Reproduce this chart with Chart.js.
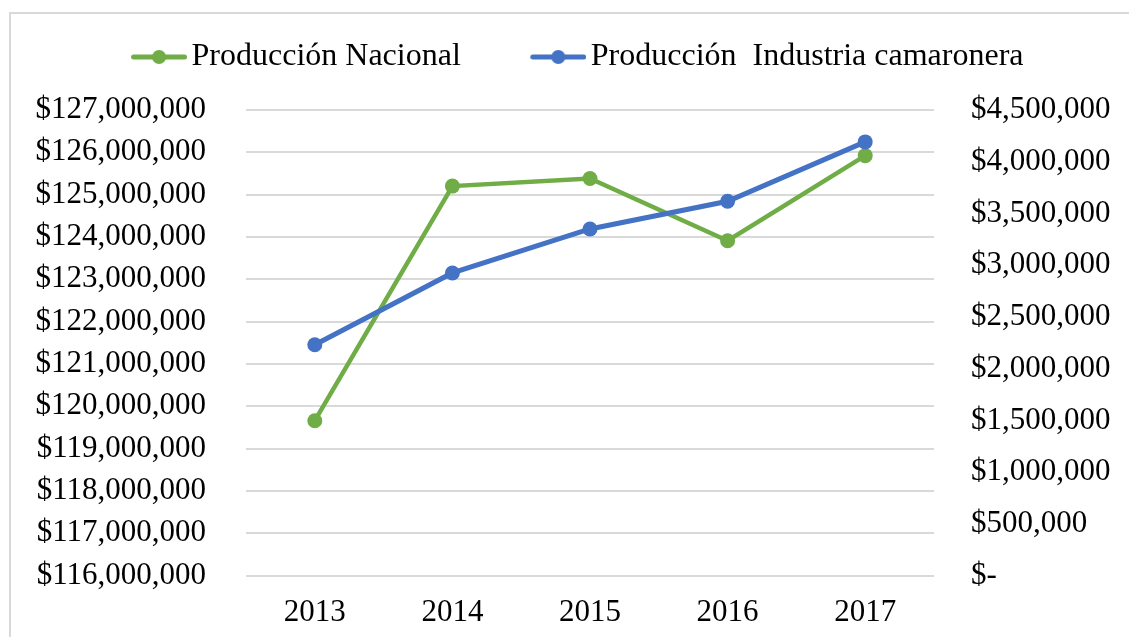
<!DOCTYPE html>
<html>
<head>
<meta charset="utf-8">
<script src="https://cdn.jsdelivr.net/npm/chart.js@4.4.1/dist/chart.umd.min.js"></script>
<style>
  html, body { margin: 0; padding: 0; background: #fff; overflow: hidden; }
  #wrap { position: relative; width: 1129px; height: 637px; }
  #frame { position: absolute; left: 9px; top: 12px; width: 1300px; height: 800px; border: 2px solid #d9d9d9; box-sizing: border-box; }
  canvas { position: absolute; left: 0; top: 0; }
</style>
</head>
<body>
<div id="wrap">
  <div id="frame"></div>
  <canvas id="c" width="1129" height="637"></canvas>
</div>
<script>
const years = ['2013', '2014', '2015', '2016', '2017'];
const produccionNacional = [119660000, 125200000, 125380000, 123910000, 125920000];
const produccionCamaronera = [2231000, 2925000, 3350000, 3617000, 4191000];
const seriesNames = ['Producción Nacional', 'Producción  Industria camaronera'];
const seriesColors = ['#70AD47', '#4472C4'];
const leftMin = 116000000, leftMax = 127000000, leftStep = 1000000;
const rightMin = 0, rightMax = 4500000, rightStep = 500000;

const FONT = 'Liberation Serif, Times New Roman, serif';
const FS = 31;
const LFS = 32;
const SHIFT = 34;

function money(v) {
  if (v === 0) return '$-';
  return '$' + Math.round(v).toLocaleString('en-US');
}

function legendIcon(color) {
  const c = document.createElement('canvas');
  c.width = 127; c.height = 18;
  const g = c.getContext('2d');
  g.strokeStyle = color; g.lineWidth = 5; g.lineCap = 'round';
  g.beginPath(); g.moveTo(73.5, 9); g.lineTo(124.5, 9); g.stroke();
  g.fillStyle = color;
  g.beginPath(); g.arc(99, 9, 7, 0, Math.PI * 2); g.fill();
  return c;
}
const icons = seriesColors.map(legendIcon);

new Chart(document.getElementById('c'), {
  type: 'line',
  data: {
    labels: years,
    datasets: [
      {
        label: seriesNames[0], data: produccionNacional, yAxisID: 'y', order: 1,
        borderColor: seriesColors[0], backgroundColor: seriesColors[0],
        borderWidth: 4.5, pointRadius: 7.5, pointBorderWidth: 0,
        pointBackgroundColor: seriesColors[0], tension: 0
      },
      {
        label: seriesNames[1], data: produccionCamaronera, yAxisID: 'y1', order: 0,
        borderColor: seriesColors[1], backgroundColor: seriesColors[1],
        borderWidth: 5, pointRadius: 7.5, pointBorderWidth: 0,
        pointBackgroundColor: seriesColors[1], tension: 0
      }
    ]
  },
  options: {
    responsive: false,
    animation: false,
    devicePixelRatio: 1,
    layout: { padding: { top: 31, right: 0, left: -SHIFT, bottom: 0 } },
    plugins: {
      tooltip: { enabled: false },
      subtitle: { display: true, text: '', weight: 500, font: { size: 1, lineHeight: 1 }, padding: { top: 0, bottom: 25.9 } },
      legend: {
        display: true,
        position: 'top',
        labels: {
          usePointStyle: true,
          pointStyleWidth: 104,
          padding: 10,
          color: '#000',
          font: { family: FONT, size: LFS },
          sort: (a, b) => a.datasetIndex - b.datasetIndex,
          generateLabels(chart) {
            const items = Chart.defaults.plugins.legend.labels.generateLabels(chart);
            items.forEach(it => { it.pointStyle = icons[it.datasetIndex]; it.lineWidth = 0; });
            return items;
          }
        }
      }
    },
    scales: {
      x: {
        offset: true,
        grid: { display: false, drawTicks: false, offset: true },
        border: { display: false },
        ticks: { color: '#000', font: { family: FONT, size: FS }, padding: 19 },
        afterFit(s) { s.height = 61.3; }
      },
      y: {
        position: 'left',
        min: leftMin, max: leftMax,
        grid: { color: '#d9d9d9', lineWidth: 2, drawTicks: false },
        border: { display: false },
        ticks: { stepSize: leftStep, color: '#000', font: { family: FONT, size: FS }, padding: 40, callback: v => money(v) },
        afterFit(s) { s.width = 246 + SHIFT; }
      },
      y1: {
        position: 'right',
        min: rightMin, max: rightMax,
        grid: { display: false, drawTicks: false },
        border: { display: false },
        ticks: { stepSize: rightStep, color: '#000', font: { family: FONT, size: FS }, padding: 37, callback: v => money(v) },
        afterFit(s) { s.width = 195; }
      }
    }
  }
});
</script>
</body>
</html>
